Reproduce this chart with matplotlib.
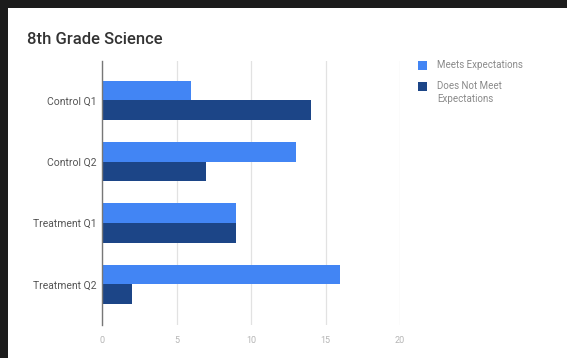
import matplotlib
matplotlib.use("Agg")
import matplotlib.pyplot as plt
from matplotlib.patches import Rectangle
import numpy as np

# data
categories = ["Control Q1", "Control Q2", "Treatment Q1", "Treatment Q2"]
meets = [6, 13, 9, 16]
not_meets = [14, 7, 9, 2]
series_labels = ["Meets Expectations", "Does Not Meet\nExpectations"]
x_ticks = [0, 5, 10, 15, 20]

C_MEETS = "#4285f4"
C_NOT = "#1c4587"

plt.rcParams["font.family"] = ["Roboto", "DejaVu Sans"]

fig = plt.figure(figsize=(5.67, 3.58), dpi=100)
fig.patch.set_facecolor("#1c1c1c")
# white card, dark frame only on top and left
fig.patches.append(Rectangle((8 / 567, 0), 1, 1 - 8 / 358,
                             transform=fig.transFigure, facecolor="white",
                             edgecolor="none", zorder=-10))

ax = fig.add_axes([102 / 567, 1 - 325 / 358, (400 - 102) / 567, (325 - 61) / 358])
ax.set_facecolor("white")

y = np.arange(len(categories))
h = 0.32
ax.barh(y - h / 2, meets, height=h, color=C_MEETS, zorder=3)
ax.barh(y + h / 2, not_meets, height=h, color=C_NOT, zorder=3)

ax.set_xlim(0, 20)
ax.set_ylim(3.66, -0.64)
ax.set_xticks(x_ticks)
ax.set_xticklabels([str(t) for t in x_ticks], fontsize=6.5, color="#b5b5b5")
ax.set_yticks(y)
ax.set_yticklabels(categories, fontsize=7.5, color="#555555")
ax.tick_params(length=0, pad=4)
ax.tick_params(axis="x", pad=8)

ax.grid(axis="x", color="#e2e2e2", linewidth=0.9, zorder=0)
for s in ["top", "right", "bottom"]:
    ax.spines[s].set_visible(False)
ax.spines["left"].set_color("#777777")
ax.spines["left"].set_linewidth(1.0)
ax.spines["left"].set_zorder(4)

fig.text(27 / 567, 1 - 39 / 358, "8th Grade Science", fontsize=12,
         fontweight="medium", color="#333333", va="center", ha="left")

# legend drawn by hand to match the Sheets look
for i, (lab, col) in enumerate(zip(series_labels, [C_MEETS, C_NOT])):
    cy = 65 + i * 21
    fig.patches.append(Rectangle((418 / 567, 1 - (cy + 4.5) / 358), 9 / 567, 9 / 358,
                                 transform=fig.transFigure, facecolor=col,
                                 edgecolor="none"))
    fig.text(437 / 567, 1 - (cy - 5) / 358, lab, fontsize=7, color="#8a8a8a",
             va="top", ha="left", linespacing=1.4)

fig.savefig("out.png", dpi=100, facecolor=fig.get_facecolor())
